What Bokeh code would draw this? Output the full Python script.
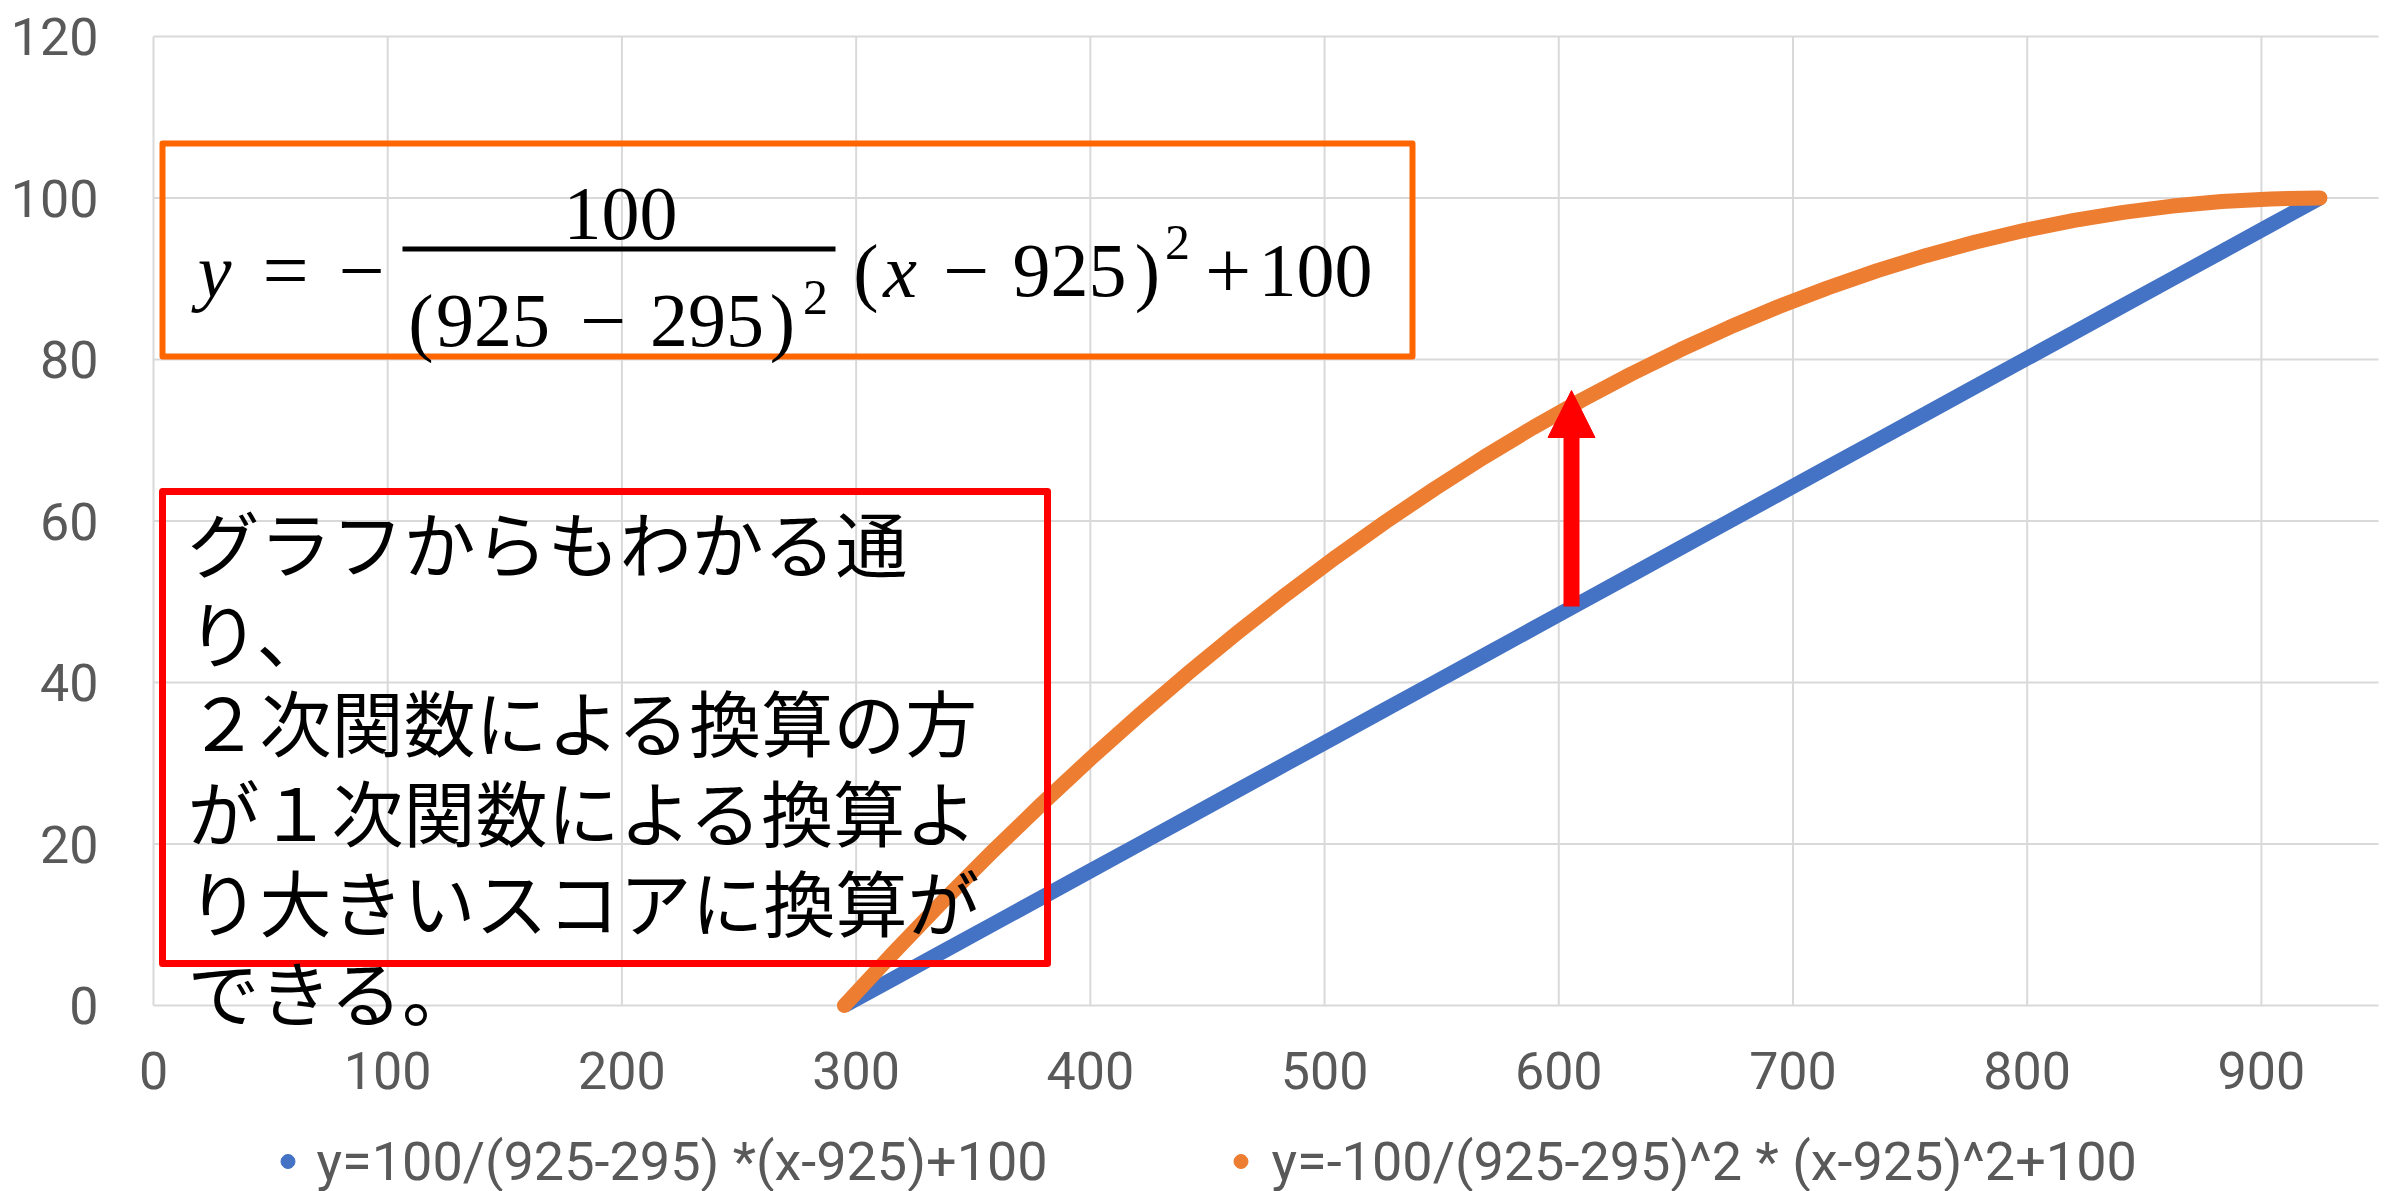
import numpy as np
from bokeh.plotting import figure
from bokeh.models import (Range1d, FixedTicker, Legend, LegendItem, Arrow, NormalHead)
from bokeh.core.properties import value
from bokeh.embed import file_html
from bokeh.resources import INLINE

# Raw score (x) and the two converted scores (y)
raw_x = [295, 316, 337, 358, 379, 400, 421, 442, 463, 484, 505,
         526, 547, 568, 589, 610, 631, 652, 673, 694, 715,
         736, 757, 778, 799, 820, 841, 862, 883, 904, 925]
linear_y = [0.00, 3.33, 6.67, 10.00, 13.33, 16.67, 20.00, 23.33, 26.67, 30.00, 33.33,
            36.67, 40.00, 43.33, 46.67, 50.00, 53.33, 56.67, 60.00, 63.33, 66.67,
            70.00, 73.33, 76.67, 80.00, 83.33, 86.67, 90.00, 93.33, 96.67, 100.00]
quad_y = [0.00, 6.56, 12.89, 19.00, 24.89, 30.56, 36.00, 41.22, 46.22, 51.00, 55.56,
          59.89, 64.00, 67.89, 71.56, 75.00, 78.22, 81.22, 84.00, 86.56, 88.89,
          91.00, 92.89, 94.56, 96.00, 97.22, 98.22, 99.00, 99.56, 99.89, 100.00]

x_ticks = [0, 100, 200, 300, 400, 500, 600, 700, 800, 900]
y_ticks = [0, 20, 40, 60, 80, 100, 120]

linear_label = "y=100/(925-295) *(x-925)+100"
quad_label = "y=-100/(925-295)^2 * (x-925)^2+100"

note_lines = [
    "グラフからもわかる通",
    "り、",
    "２次関数による換算の方",
    "が１次関数による換算よ",
    "り大きいスコアに換算が",
    "できる。",
]

BLUE = "#4472C4"
ORANGE = "#ED7D31"
GRID = "#D9D9D9"
TICK = "#595959"

# Canvas and the value band (x 0..950, y 0..120) inside it, in pixels
W, H = 2397, 1191
LEFT, RIGHT, TOP = 153, 19, 36
PLOT_H = 969
BELOW = H - TOP - PLOT_H
FW = W - LEFT - RIGHT
X_MAX, Y_MAX = 950, 120
PX_X = X_MAX / FW        # data units per pixel, horizontally
PX_Y = Y_MAX / PLOT_H    # data units per pixel, vertically


def fx(px):
    """pixel offset from the left edge of the value band -> data x"""
    return px * PX_X


def fy(py):
    """pixel offset from the top of the value band -> data y"""
    return Y_MAX - py * PX_Y


# the frame covers the whole canvas so that labels and legend are never clipped
p = figure(width=W, height=H,
           x_range=Range1d(-LEFT * PX_X, X_MAX + RIGHT * PX_X),
           y_range=Range1d(-BELOW * PX_Y, Y_MAX + TOP * PX_Y),
           output_backend="svg", toolbar_location=None,
           min_border_left=0, min_border_right=0,
           min_border_top=0, min_border_bottom=0)
p.outline_line_color = None
p.background_fill_color = "white"
p.border_fill_color = "white"

# grid lines limited to the value band
p.xgrid.visible = False
p.ygrid.visible = False
p.segment(x0=x_ticks, y0=[0] * len(x_ticks), x1=x_ticks, y1=[Y_MAX] * len(x_ticks),
          line_color=GRID, line_width=2)
p.segment(x0=[0] * len(y_ticks), y0=y_ticks, x1=[X_MAX] * len(y_ticks), y1=y_ticks,
          line_color=GRID, line_width=2)

# axes pinned to the value band
p.xaxis.ticker = FixedTicker(ticks=x_ticks)
p.xaxis.fixed_location = 0
p.yaxis.ticker = FixedTicker(ticks=y_ticks)
p.yaxis.fixed_location = 0
for ax in (p.xaxis, p.yaxis):
    ax.axis_line_color = None
    ax.major_tick_line_color = None
    ax.minor_tick_line_color = None
    ax.major_tick_out = 0
    ax.major_tick_in = 0
    ax.major_label_text_font = "Roboto"
    ax.major_label_text_font_size = "52px"
    ax.major_label_text_color = TICK
p.yaxis.major_label_standoff = 55
p.xaxis.major_label_standoff = 46

# series
p.line(raw_x, linear_y, line_color=BLUE, line_width=15)
p.line(raw_x, quad_y, line_color=ORANGE, line_width=15,
       line_cap="round", line_join="round")

# legend markers (dots only)
dot_lin = p.scatter([np.nan], [np.nan], size=14, color=BLUE)
dot_quad = p.scatter([np.nan], [np.nan], size=14, color=ORANGE)


def make_legend(renderer, label, loc, standoff):
    return Legend(items=[LegendItem(label=label, renderers=[renderer])],
                  location=loc, orientation="horizontal",
                  label_text_font="Roboto", label_text_font_size="54px",
                  label_text_color=TICK, glyph_width=35, glyph_height=64,
                  label_height=64, label_standoff=standoff, padding=0, margin=0,
                  border_line_color=None, background_fill_alpha=0)


p.add_layout(make_legend(dot_lin, linear_label, (LEFT + 116.5, -2), 12))
p.add_layout(make_legend(dot_quad, quad_label, (LEFT + 1069.5, -2), 14))

# formula box
p.quad(left=[fx(9)], right=[fx(1259)], top=[fy(107)], bottom=[fy(320)],
       fill_alpha=0, line_color="#FF6600", line_width=6, line_join="round")

# note box
p.quad(left=[fx(9)], right=[fx(894)], top=[fy(455)], bottom=[fy(927)],
       fill_alpha=0, line_color="#FF0000", line_width=7, line_join="round")

note_centers = [504, 594, 683, 773, 863, 953]
p.text(x=[fx(34)] * len(note_lines), y=[fy(c) for c in note_centers], text=note_lines,
       text_font=value("Noto Sans CJK JP"), text_font_size="72px",
       text_align="left", text_baseline="middle", text_color="black")

# formula: y = -100/(925-295)^2 (x-925)^2 + 100
MATH = value("Liberation Serif")
main_base, num_base, den_base = 234, 177, 284
numbers = [("(", 712.5, main_base), ("925", 916, main_base), (")", 994, main_base),
           ("100", 1162, main_base),
           ("100", 467, num_base),
           ("(", 267.5, den_base), ("925", 339.5, den_base),
           ("295", 553.5, den_base), (")", 629, den_base)]
operators = [("=", 132, main_base), ("\u2212", 208, main_base),
             ("\u2212", 812.5, main_base), ("+", 1074.5, main_base),
             ("\u2212", 449.5, den_base)]
italic = [("y", 61, main_base), ("x", 746.5, main_base)]
sups = [("2", 1024, 206), ("2", 662, 261)]


def put(tokens, size, style="normal"):
    p.text(x=[fx(t[1]) for t in tokens], y=[fy(t[2]) for t in tokens],
           text=[t[0] for t in tokens], text_font=MATH, text_font_size=size,
           text_font_style=style, text_align="center", text_baseline="alphabetic",
           text_color="black")


put(numbers, "76px")
put(operators, "82px")
put(italic, "76px", "italic")
put(sups, "50px")
p.segment(x0=[fx(249)], y0=[fy(212.5)], x1=[fx(682)], y1=[fy(212.5)],
          line_color="black", line_width=5)

# arrow from the linear score up to the quadratic score
p.add_layout(Arrow(end=NormalHead(size=47, fill_color="#FF0000", line_color="#FF0000"),
                   x_start=fx(1418), y_start=fy(570), x_end=fx(1418), y_end=fy(354),
                   line_color="#FF0000", line_width=16))

open("out.html", "w").write(file_html(p, INLINE))
